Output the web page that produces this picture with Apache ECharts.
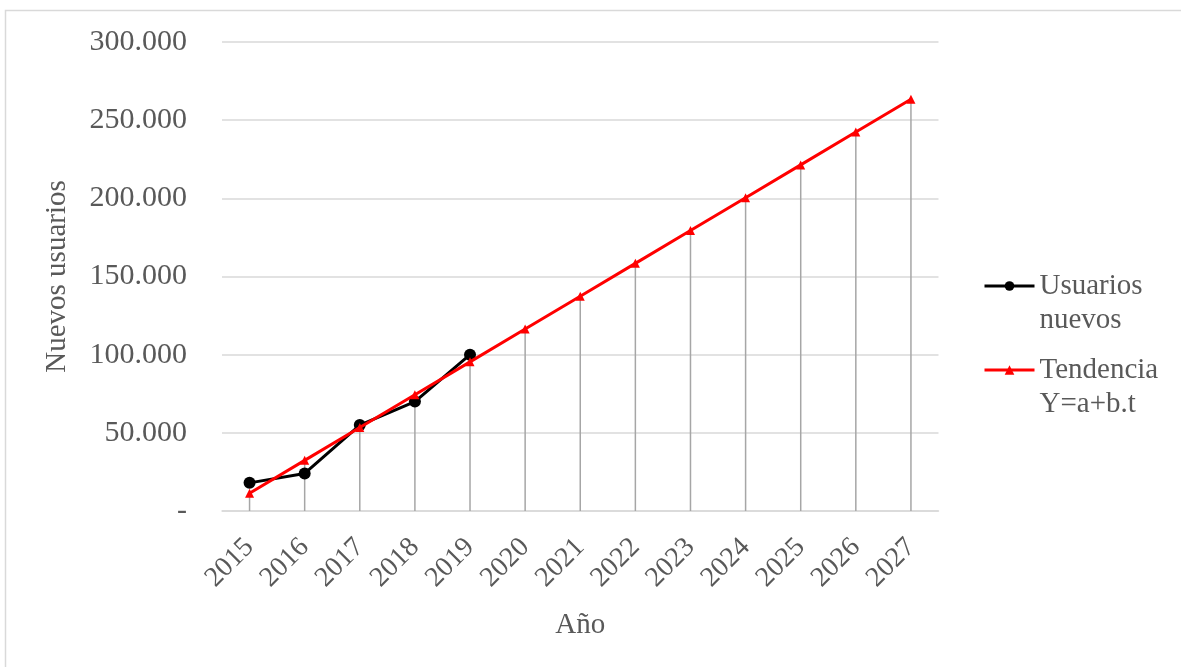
<!DOCTYPE html>
<html>
<head>
<meta charset="utf-8">
<script src="https://cdn.jsdelivr.net/npm/echarts@6/dist/echarts.min.js"></script>
<style>html,body{margin:0;padding:0;background:#fff;}#c{width:1181px;height:667px;}</style>
</head>
<body>
<div id="c"></div>
<script>
const years = ['2015','2016','2017','2018','2019','2020','2021','2022','2023','2024','2025','2026','2027'];
const usuariosNuevos = [18000, 24000, 55000, 70000, 100000];
const tendencia = [11400, 32400, 53400, 74400, 95400, 116400, 137400, 158400, 179400, 200400, 221400, 242400, 263400];

const FONT = '"Liberation Serif", "Times New Roman", serif';
const TXT = '#595959';
const chart = echarts.init(document.getElementById('c'), null, {renderer: 'canvas'});
function fmt(v) {
  if (v === 0) return '-';
  return String(v).replace(/\B(?=(\d{3})+(?!\d))/g, '.');
}
chart.setOption({
  animation: false,
  backgroundColor: '#fff',
  graphic: [{
    type: 'rect', shape: {x: 5.5, y: 10.5, width: 1300, height: 800},
    style: {fill: 'none', stroke: '#d9d9d9', lineWidth: 1.5}, silent: true
  }],
  grid: {left: 222, right: 242.5, top: 42, bottom: 156},
  legend: {
    orient: 'vertical', left: 978, top: 230,
    itemWidth: 50, itemHeight: 12, itemGap: -18,
    lineStyle: {width: 3},
    data: ['Usuarios nuevos', 'Tendencia Y=a+b.t'],
    formatter: function (n) {
      return n === 'Usuarios nuevos' ? '\nUsuarios\nnuevos' : '\nTendencia\nY=a+b.t';
    },
    textStyle: {fontFamily: FONT, fontSize: 29, color: TXT, lineHeight: 34}
  },
  xAxis: {
    type: 'category', data: years, boundaryGap: true,
    name: 'Año', nameLocation: 'middle', nameGap: 100,
    nameTextStyle: {fontFamily: FONT, fontSize: 29, color: TXT},
    axisLine: {lineStyle: {color: '#d9d9d9', width: 1.5}},
    axisTick: {show: false},
    axisLabel: {rotate: 45, margin: 32, fontFamily: FONT, fontSize: 28, color: TXT}
  },
  yAxis: {
    type: 'value', min: 0, max: 300000, interval: 50000,
    name: 'Nuevos usuarios', nameLocation: 'middle', nameGap: 150,
    nameTextStyle: {fontFamily: FONT, fontSize: 29, color: TXT},
    axisLine: {show: false}, axisTick: {show: false},
    axisLabel: {margin: 35, fontFamily: FONT, fontSize: 30, color: TXT, formatter: fmt},
    splitLine: {lineStyle: {color: '#d9d9d9', width: 1.5}}
  },
  series: [
    {
      name: 'drop', type: 'bar', data: tendencia, barWidth: 1.5, z: 1,
      itemStyle: {color: '#a6a6a6'}, silent: true, legendHoverLink: false
    },
    {
      name: 'Usuarios nuevos', type: 'line', data: usuariosNuevos, z: 3,
      symbol: 'circle', symbolSize: 12, color: '#000',
      lineStyle: {color: '#000', width: 3}, itemStyle: {color: '#000'}
    },
    {
      name: 'Tendencia Y=a+b.t', type: 'line', data: tendencia, z: 4,
      symbol: 'triangle', symbolSize: 9, color: '#ff0000',
      lineStyle: {color: '#ff0000', width: 3}, itemStyle: {color: '#ff0000'}
    }
  ]
});
</script>
</body>
</html>
